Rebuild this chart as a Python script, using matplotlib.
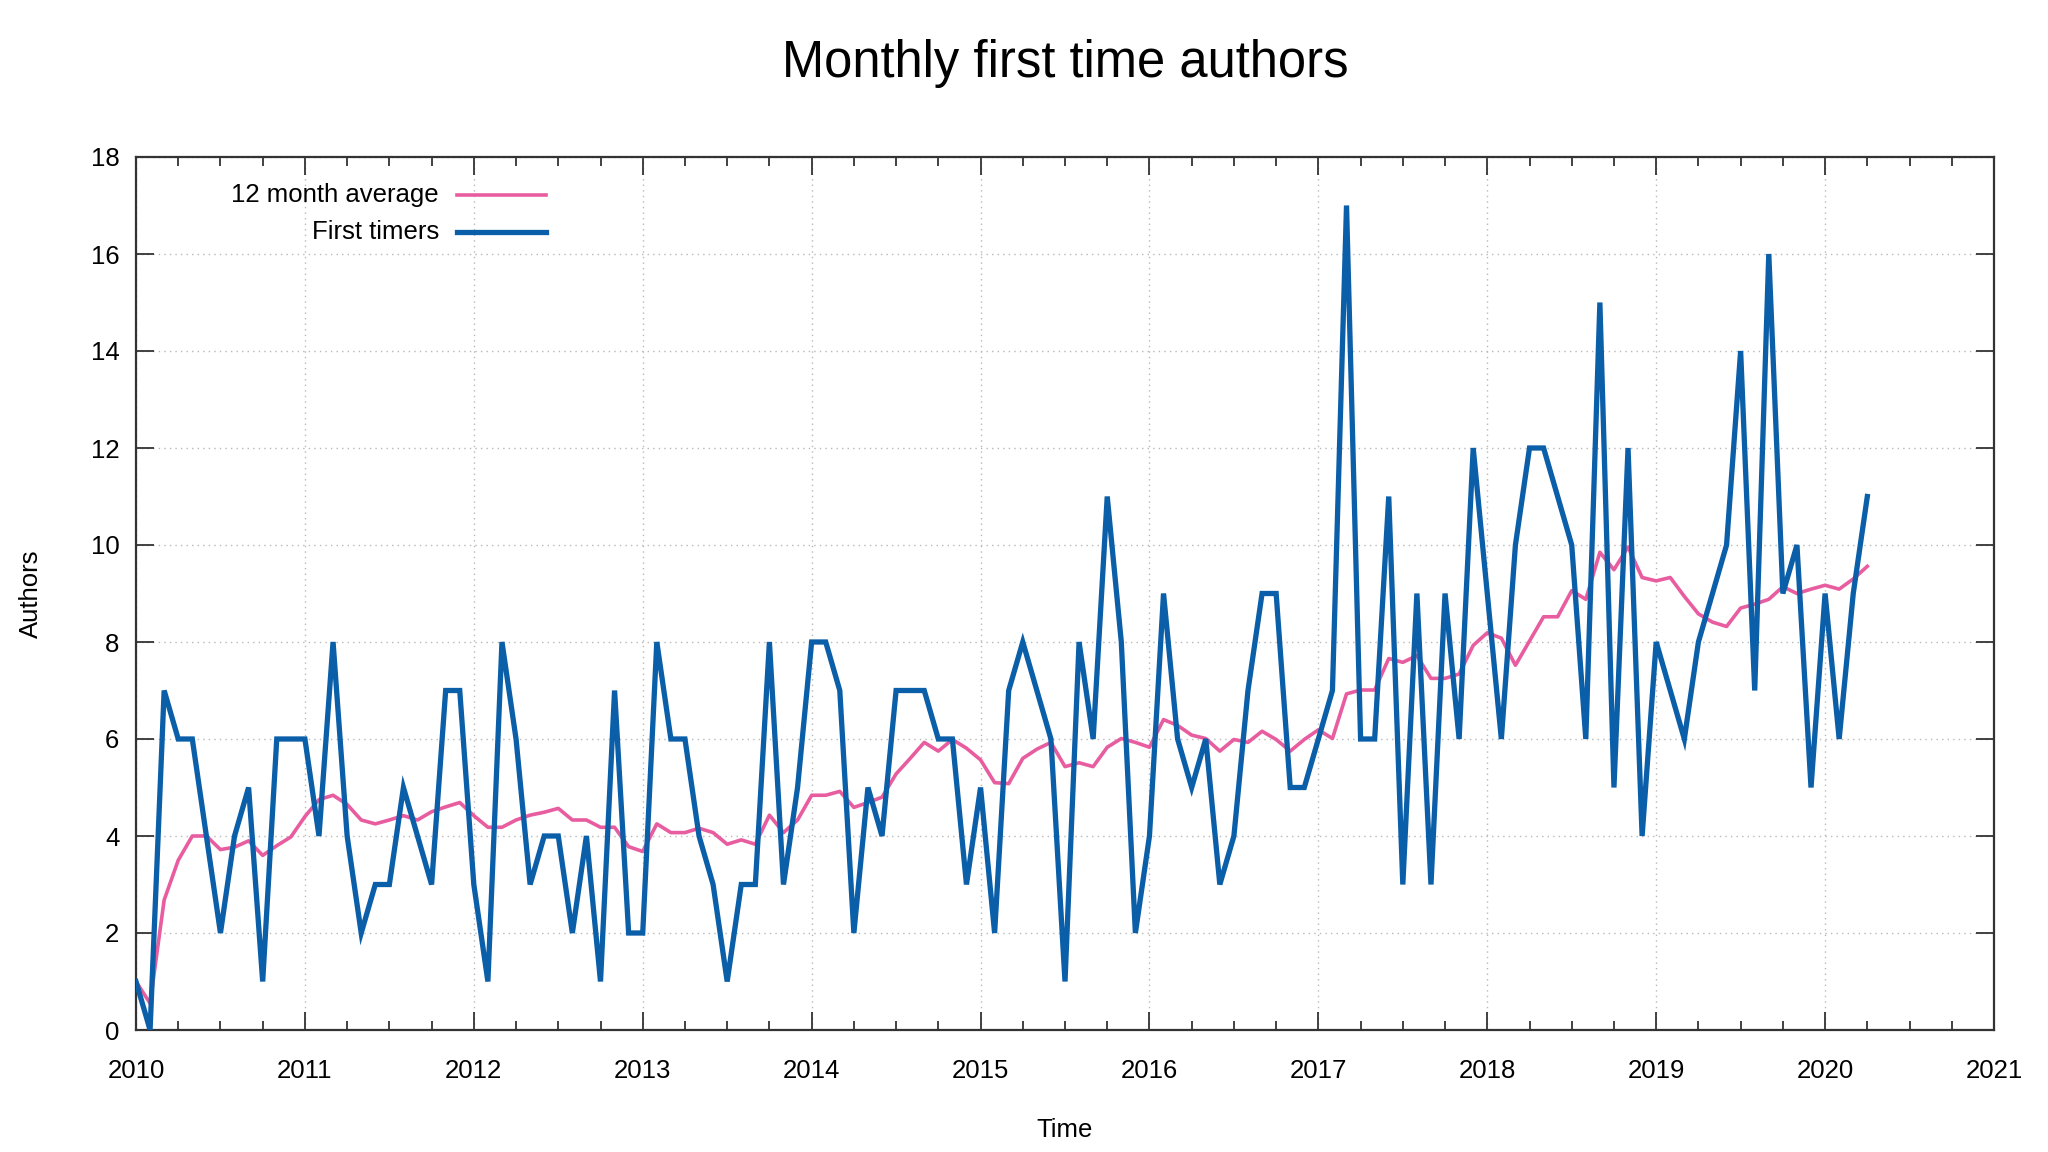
"""Monthly first time authors, redrawn in gnuplot style."""

import matplotlib

matplotlib.use("Agg")
import matplotlib.pyplot as plt
import numpy as np
from matplotlib.lines import Line2D
from matplotlib.ticker import MultipleLocator

START_YEAR = 2010

# monthly counts from Jan 2010 to Apr 2020
first_timers = [
    1, 0, 7, 6, 6, 4, 2, 4, 5, 1, 6, 6,
    6, 4, 8, 4, 2, 3, 3, 5, 4, 3, 7, 7,
    3, 1, 8, 6, 3, 4, 4, 2, 4, 1, 7, 2,
    2, 8, 6, 6, 4, 3, 1, 3, 3, 8, 3, 5,
    8, 8, 7, 2, 5, 4, 7, 7, 7, 6, 6, 3,
    5, 2, 7, 8, 7, 6, 1, 8, 6, 11, 8, 2,
    4, 9, 6, 5, 6, 3, 4, 7, 9, 9, 5, 5,
    6, 7, 17, 6, 6, 11, 3, 9, 3, 9, 6, 12,
    9, 6, 10, 12, 12, 11, 10, 6, 15, 5, 12, 4,
    8, 7, 6, 8, 9, 10, 14, 7, 16, 9, 10, 5,
    9, 6, 9, 11,
]

avg_12m = [
    1.0, 0.55, 2.68, 3.5, 4.0, 4.0, 3.72, 3.77, 3.9, 3.6, 3.8, 3.98,
    4.4, 4.75, 4.84, 4.65, 4.33, 4.25, 4.33, 4.42, 4.33, 4.5, 4.6, 4.69,
    4.42, 4.18, 4.18, 4.33, 4.43, 4.49, 4.57, 4.33, 4.33, 4.18, 4.18, 3.78,
    3.68, 4.25, 4.07, 4.07, 4.16, 4.07, 3.83, 3.92, 3.83, 4.43, 4.07, 4.33,
    4.84, 4.84, 4.92, 4.59, 4.69, 4.8, 5.28, 5.6, 5.93, 5.75, 5.99, 5.81,
    5.57, 5.1, 5.08, 5.6, 5.79, 5.93, 5.43, 5.51, 5.43, 5.83, 6.01, 5.93,
    5.83, 6.4, 6.28, 6.08, 6.01, 5.75, 5.99, 5.93, 6.16, 5.99, 5.75, 5.99,
    6.19, 6.01, 6.93, 7.01, 7.01, 7.66, 7.58, 7.72, 7.25, 7.25, 7.34, 7.93,
    8.19, 8.08, 7.52, 8.02, 8.52, 8.52, 9.06, 8.88, 9.85, 9.49, 9.96, 9.33,
    9.26, 9.33, 8.94, 8.58, 8.41, 8.32, 8.7, 8.78, 8.88, 9.14, 9.0, 9.09,
    9.17, 9.09, 9.3, 9.56,
]

year_ticks = list(range(2010, 2022))
author_ticks = list(range(0, 19, 2))

BLUE = "#0b5ea8"
PINK = "#e85d9f"
FS = 18.5
LW_BLUE = 3.8
LW_PINK = 2.6

plt.rcParams["font.family"] = ["Liberation Sans", "DejaVu Sans"]

fig = plt.figure(figsize=(20.48, 11.52), dpi=100)
ax = fig.add_axes([136 / 2048, 1 - 1030 / 1152, 1858 / 2048, 873 / 1152])

x = START_YEAR + np.arange(len(first_timers)) / 12.0
ax.plot(x, avg_12m, color=PINK, lw=LW_PINK, zorder=3)
ax.plot(x, first_timers, color=BLUE, lw=LW_BLUE, zorder=4, solid_joinstyle="miter")

ax.set_xlim(year_ticks[0], year_ticks[-1])
ax.set_ylim(author_ticks[0], author_ticks[-1])
ax.set_xticks(year_ticks)
ax.set_yticks(author_ticks)
ax.xaxis.set_minor_locator(MultipleLocator(0.25))

ax.grid(True, which="major", linestyle=(0, (1, 3)), color="#b8b8b8", lw=1.0)
ax.set_axisbelow(True)

ax.tick_params(axis="both", which="both", direction="in", top=True, right=True,
               color="#333333", width=1.3, labelsize=FS)
ax.tick_params(axis="both", which="major", length=13)
ax.tick_params(axis="x", which="minor", length=6.5)
ax.tick_params(axis="x", which="major", pad=21)
ax.tick_params(axis="y", which="major", pad=12)
for sp in ax.spines.values():
    sp.set_color("#333333")
    sp.set_linewidth(1.6)

ax.set_xlabel("Time", fontsize=FS, labelpad=25)
ax.set_ylabel("Authors", fontsize=FS, labelpad=34)
fig.text(0.5 * (136 + 1994) / 2048, 1 - 64 / 1152, "Monthly first time authors",
         ha="center", va="center", fontsize=36.5)

# gnuplot-style key: right-aligned text, sample line after it
key = [("12 month average", PINK, LW_PINK), ("First timers", BLUE, LW_BLUE)]
for i, (label, col, lw) in enumerate(key):
    yk = 0.9565 - i * 0.0425
    ax.text(0.163, yk, label, transform=ax.transAxes, ha="right", va="center", fontsize=FS)
    ax.add_line(Line2D([0.1728, 0.2206], [yk, yk], transform=ax.transAxes, color=col, lw=lw))

fig.savefig("out.png", dpi=100, facecolor="white")
plt.close(fig)
